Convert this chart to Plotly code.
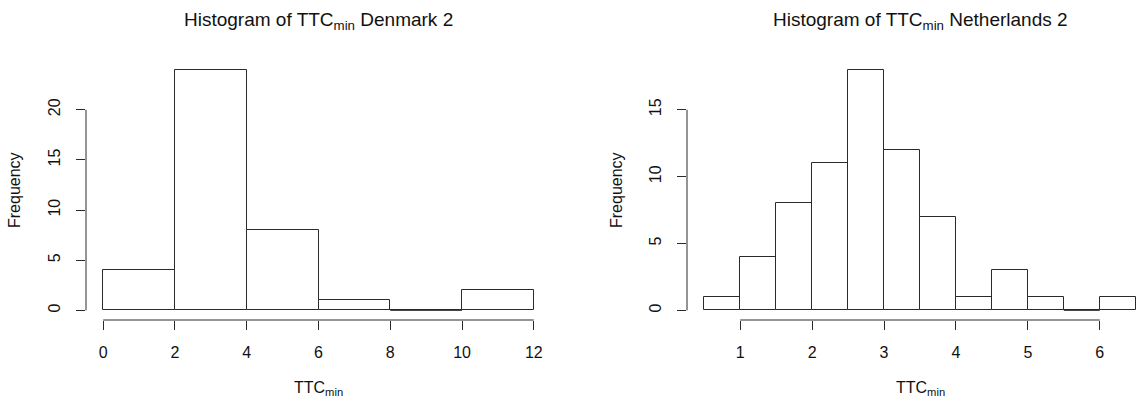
import plotly.graph_objects as go

# ---- data ----
dk_edges = [0, 2, 4, 6, 8, 10, 12]
dk_counts = [4, 24, 8, 1, 0, 2]
dk_xticks = [0, 2, 4, 6, 8, 10, 12]
dk_yticks = [0, 5, 10, 15, 20]

nl_edges = [0.5, 1.0, 1.5, 2.0, 2.5, 3.0, 3.5, 4.0, 4.5, 5.0, 5.5, 6.0, 6.5]
nl_counts = [1, 4, 8, 11, 18, 12, 7, 1, 3, 1, 0, 1]
nl_xticks = [1, 2, 3, 4, 5, 6]
nl_yticks = [0, 5, 10, 15]

W, H = 1136, 402
FONT = "Liberation Sans, Arial, Helvetica, sans-serif"
LC = "#2a2a2a"
TC = "#111111"

fig = go.Figure()


def add_hist(edges, counts, xa, ya):
    centers = [(a + b) / 2 for a, b in zip(edges[:-1], edges[1:])]
    widths = [b - a for a, b in zip(edges[:-1], edges[1:])]
    fig.add_trace(go.Bar(x=centers, y=counts, width=widths,
                         marker=dict(color="white", line=dict(color=LC, width=1)),
                         xaxis=xa, yaxis=ya, showlegend=False, hoverinfo="skip"))
    # zero-count bins: R still draws a flat rectangle along the baseline
    for c, a, b in zip(counts, edges[:-1], edges[1:]):
        if c == 0:
            fig.add_trace(go.Scatter(x=[a, b], y=[c, c], mode="lines",
                                     line=dict(color=LC, width=1),
                                     xaxis=xa, yaxis=ya, showlegend=False,
                                     hoverinfo="skip"))


add_hist(dk_edges, dk_counts, "x", "y")
add_hist(nl_edges, nl_counts, "x2", "y2")

# plot region geometry (pixels), as R's default par
top, bot = 60, 320
l1, r1 = 86, 551
l2, r2 = 687, 1136


def xr(edges, left, right, full_right):
    lo, hi = edges[0], edges[-1]
    pad = 0.04 * (hi - lo)
    a, b = lo - pad, hi + pad
    # right panel is clipped by the image edge
    frac = (right - left) / (full_right - left)
    return [a, a + (b - a) * frac]


def yr(counts):
    hi = max(counts)
    return [-0.04 * hi, hi * 1.04]


axis_common = dict(showgrid=False, zeroline=False, showline=False,
                   ticks="outside", ticklen=9, tickwidth=1, tickcolor=LC,
                   tickfont=dict(family=FONT, size=16, color=TC),
                   fixedrange=True)

fig.update_layout(
    width=W, height=H, margin=dict(l=0, r=0, t=0, b=0), autosize=False,
    paper_bgcolor="white", plot_bgcolor="white", bargap=0,
    font=dict(family=FONT, color=TC),
    xaxis=dict(domain=[l1 / W, r1 / W], range=xr(dk_edges, l1, r1, r1),
               tickvals=dk_xticks, anchor="y", ticklabelstandoff=9, **axis_common),
    yaxis=dict(domain=[1 - bot / H, 1 - top / H], range=yr(dk_counts),
               tickvals=dk_yticks, anchor="x", tickangle=-90,
               ticklabelstandoff=10, **axis_common),
    xaxis2=dict(domain=[l2 / W, 1], range=xr(nl_edges, l2, r2, 1153),
                tickvals=nl_xticks, anchor="y2", ticklabelstandoff=9, **axis_common),
    yaxis2=dict(domain=[1 - bot / H, 1 - top / H], range=yr(nl_counts),
                tickvals=nl_yticks, anchor="x2", tickangle=-90,
                ticklabelstandoff=10, **axis_common),
)

# R-style axis lines spanning first to last tick
for xa, ya, xt, yt in [("x", "y", dk_xticks, dk_yticks), ("x2", "y2", nl_xticks, nl_yticks)]:
    fig.add_shape(type="line", xref=xa, yref=f"{ya} domain", x0=xt[0], x1=xt[-1],
                  y0=0, y1=0, line=dict(color=LC, width=1))
    fig.add_shape(type="line", xref=f"{xa} domain", yref=ya, x0=0, x1=0,
                  y0=yt[0], y1=yt[-1], line=dict(color=LC, width=1))

titles = ["Histogram of TTC<sub>min</sub> Denmark 2",
          "Histogram of TTC<sub>min</sub> Netherlands 2"]
centers = [(l1 + r1) / 2, (l2 + 1153) / 2]
for text, cx in zip(titles, centers):
    fig.add_annotation(text=text, x=cx / W, y=1 - 21 / H, xref="paper", yref="paper",
                       showarrow=False, font=dict(family=FONT, size=19, color=TC),
                       xanchor="center", yanchor="middle")
    fig.add_annotation(text="TTC<sub>min</sub>", x=cx / W, y=1 - 388 / H, xref="paper",
                       yref="paper", showarrow=False,
                       font=dict(family=FONT, size=16, color=TC),
                       xanchor="center", yanchor="middle")

for fx in (15, 617):
    fig.add_annotation(text="Frequency", x=fx / W, y=1 - 190 / H, xref="paper",
                       yref="paper", showarrow=False, textangle=-90,
                       font=dict(family=FONT, size=16, color=TC),
                       xanchor="center", yanchor="middle")

fig.write_html("out.html")
